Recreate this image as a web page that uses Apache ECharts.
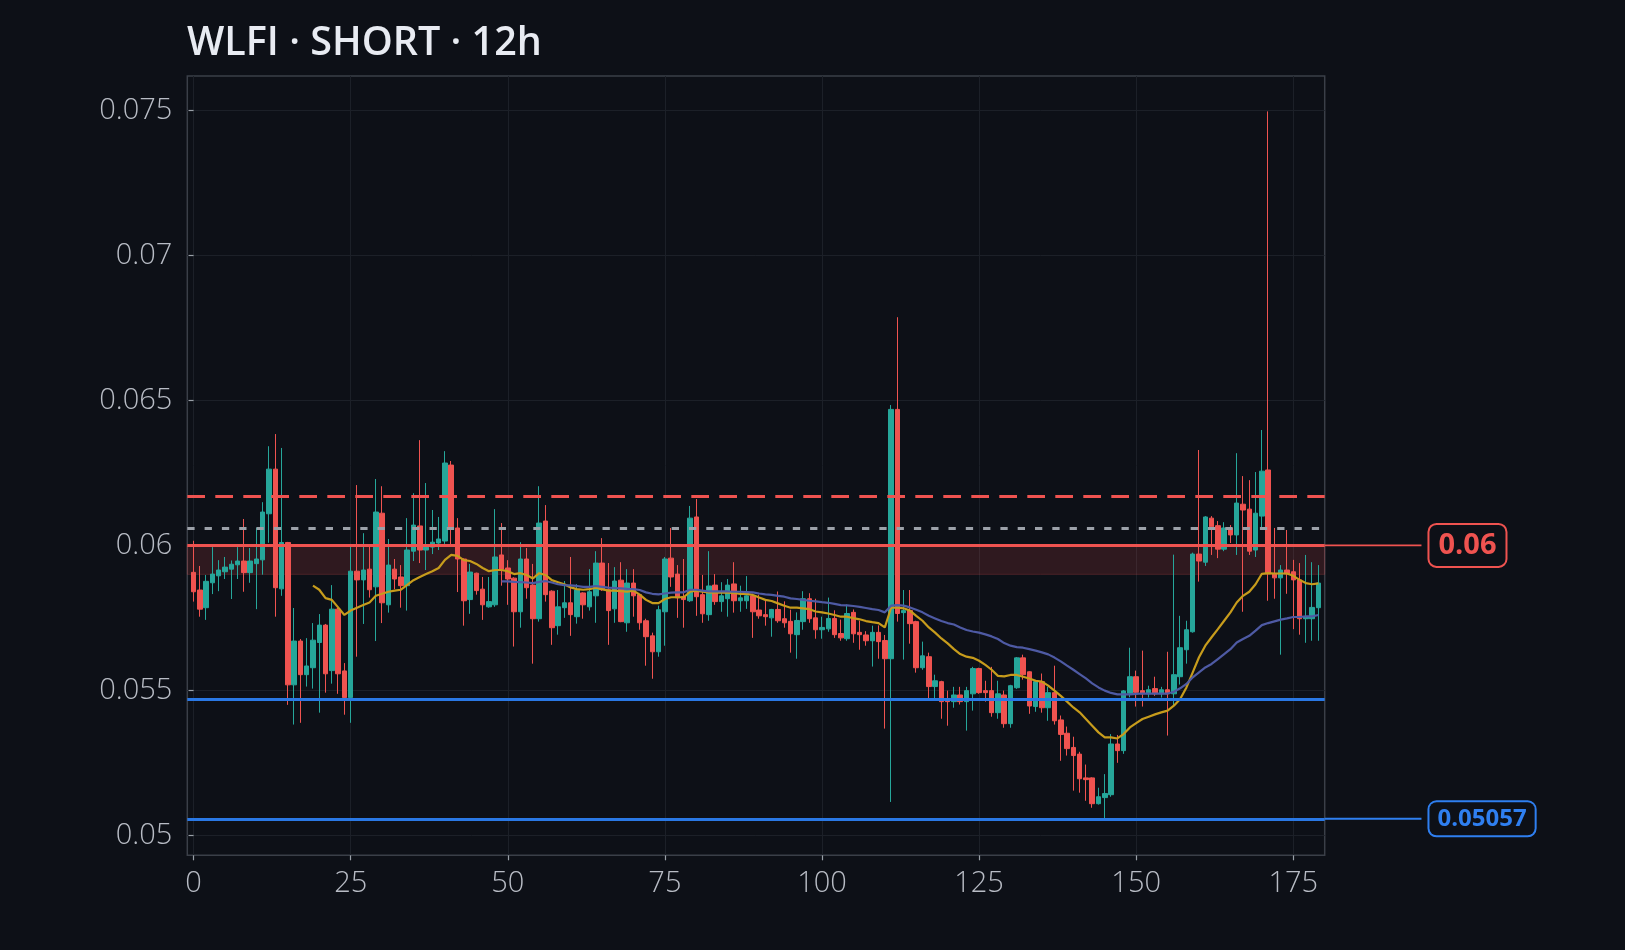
<!DOCTYPE html>
<html><head><meta charset="utf-8">
<script src="https://cdn.jsdelivr.net/npm/echarts@6/dist/echarts.min.js"></script>
<style>html,body{margin:0;padding:0;background:#0d1017;}#chart{width:1625px;height:950px;}</style>
</head><body><div id="chart"></div>
<script>
const chartTitle = 'WLFI · SHORT · 12h';
const xTicks = [0, 25, 50, 75, 100, 125, 150, 175];
const yTicks = [0.05, 0.055, 0.06, 0.065, 0.07, 0.075];

const opens = [
0.05907,0.05846,0.05785,0.05871,0.05895,0.05909,0.05918,0.05933,0.05946,0.05906,
0.05937,0.05950,0.06109,0.06263,0.05850,0.06010,0.05519,0.05670,0.05554,0.05578,
0.05665,0.05725,0.05568,0.05780,0.05567,0.05475,0.05911,0.05881,0.05918,0.05857,
0.06111,0.05795,0.05918,0.05891,0.05861,0.05980,0.06067,0.05984,0.05994,0.06008,
0.06015,0.06277,0.06060,0.05953,0.05813,0.05904,0.05849,0.05788,0.05795,0.05967,
0.05922,0.05887,0.05771,0.05953,0.05863,0.05747,0.06084,0.05842,0.05723,0.05785,
0.05802,0.05754,0.05836,0.05788,0.05826,0.05939,0.05847,0.05781,0.05880,0.05733,
0.05870,0.05830,0.05740,0.05688,0.05633,0.05771,0.05956,0.05901,0.05823,0.05809,
0.06098,0.05830,0.05761,0.05863,0.05806,0.05816,0.05867,0.05809,0.05809,0.05826,
0.05777,0.05761,0.05750,0.05779,0.05747,0.05738,0.05692,0.05737,0.05816,0.05750,
0.05709,0.05712,0.05748,0.05696,0.05678,0.05769,0.05700,0.05691,0.05671,0.05700,
0.05672,0.05609,0.06469,0.05768,0.05775,0.05737,0.05578,0.05616,0.05513,0.05530,
0.05470,0.05461,0.05484,0.05461,0.05488,0.05575,0.05499,0.05499,0.05423,0.05484,
0.05385,0.05509,0.05612,0.05564,0.05444,0.05530,0.05440,0.05492,0.05398,0.05352,
0.05303,0.05280,0.05198,0.05198,0.05109,0.05130,0.05140,0.05315,0.05292,0.05490,
0.05547,0.05499,0.05488,0.05506,0.05488,0.05502,0.05488,0.05547,0.05640,0.05702,
0.05970,0.05942,0.06094,0.06068,0.05987,0.06060,0.06036,0.06142,0.06125,0.05984,
0.06101,0.06260,0.05902,0.05888,0.05915,0.05909,0.05881,0.05747,0.05747,0.05785
];
const closes = [
0.05840,0.05780,0.05876,0.05901,0.05915,0.05925,0.05935,0.05946,0.05906,0.05946,
0.05953,0.06115,0.06263,0.05854,0.06010,0.05519,0.05670,0.05554,0.05584,0.05673,
0.05725,0.05557,0.05780,0.05557,0.05475,0.05911,0.05881,0.05915,0.05847,0.06115,
0.05802,0.05932,0.05884,0.05861,0.05984,0.06070,0.05984,0.05994,0.06011,0.06022,
0.06284,0.06060,0.05953,0.05809,0.05908,0.05844,0.05795,0.05806,0.05960,0.05918,
0.05884,0.05771,0.05953,0.05854,0.05747,0.06077,0.05830,0.05716,0.05788,0.05802,
0.05761,0.05846,0.05795,0.05840,0.05939,0.05847,0.05775,0.05877,0.05737,0.05870,
0.05826,0.05733,0.05685,0.05633,0.05778,0.05953,0.05891,0.05819,0.05813,0.06094,
0.05823,0.05764,0.05860,0.05806,0.05826,0.05863,0.05809,0.05819,0.05826,0.05771,
0.05757,0.05754,0.05779,0.05740,0.05733,0.05695,0.05741,0.05816,0.05747,0.05709,
0.05717,0.05748,0.05692,0.05681,0.05765,0.05695,0.05692,0.05671,0.05700,0.05668,
0.05609,0.06469,0.05765,0.05775,0.05730,0.05578,0.05619,0.05513,0.05533,0.05461,
0.05461,0.05484,0.05461,0.05499,0.05575,0.05492,0.05492,0.05423,0.05488,0.05385,
0.05516,0.05612,0.05554,0.05446,0.05530,0.05440,0.05492,0.05395,0.05348,0.05299,
0.05275,0.05195,0.05192,0.05109,0.05133,0.05144,0.05315,0.05292,0.05498,0.05547,
0.05493,0.05488,0.05502,0.05488,0.05502,0.05488,0.05554,0.05647,0.05709,0.05970,
0.05946,0.06098,0.06064,0.05987,0.06060,0.06036,0.06146,0.06122,0.05980,0.06111,
0.06256,0.05902,0.05888,0.05915,0.05902,0.05881,0.05747,0.05754,0.05786,0.05870
];
const lows = [
0.05806,0.05754,0.05743,0.05832,0.05842,0.05884,0.05815,0.05884,0.05840,0.05871,
0.05780,0.05899,0.06009,0.05754,0.05826,0.05450,0.05382,0.05388,0.05513,0.05506,
0.05423,0.05492,0.05523,0.05488,0.05416,0.05388,0.05616,0.05729,0.05820,0.05670,
0.05732,0.05768,0.05849,0.05785,0.05775,0.05946,0.05939,0.05915,0.05970,0.05984,
0.06005,0.06000,0.05839,0.05723,0.05764,0.05830,0.05743,0.05785,0.05788,0.05861,
0.05795,0.05651,0.05716,0.05816,0.05592,0.05737,0.05806,0.05657,0.05692,0.05750,
0.05688,0.05730,0.05747,0.05775,0.05733,0.05843,0.05657,0.05733,0.05735,0.05702,
0.05754,0.05709,0.05585,0.05540,0.05616,0.05654,0.05857,0.05750,0.05716,0.05805,
0.05757,0.05733,0.05740,0.05795,0.05771,0.05754,0.05768,0.05771,0.05781,0.05681,
0.05747,0.05723,0.05685,0.05733,0.05716,0.05630,0.05609,0.05709,0.05733,0.05678,
0.05678,0.05702,0.05681,0.05671,0.05671,0.05664,0.05640,0.05654,0.05582,0.05609,
0.05368,0.05115,0.05737,0.05606,0.05661,0.05561,0.05571,0.05471,0.05471,0.05402,
0.05378,0.05440,0.05451,0.05361,0.05430,0.05488,0.05461,0.05409,0.05402,0.05371,
0.05371,0.05505,0.05537,0.05419,0.05426,0.05423,0.05395,0.05382,0.05257,0.05275,
0.05154,0.05147,0.05119,0.05095,0.05106,0.05056,0.05133,0.05250,0.05281,0.05476,
0.05444,0.05444,0.05475,0.05481,0.05475,0.05344,0.05445,0.05520,0.05592,0.05699,
0.05875,0.05929,0.05967,0.05956,0.05980,0.06008,0.05967,0.05771,0.05967,0.05960,
0.06053,0.05809,0.05816,0.05623,0.05833,0.05711,0.05692,0.05664,0.05671,0.05671
];
const highs = [
0.06016,0.05929,0.05898,0.05994,0.05949,0.05960,0.05948,0.05994,0.06091,0.05991,
0.06061,0.06149,0.06342,0.06384,0.06336,0.06012,0.05784,0.05677,0.05680,0.05732,
0.05763,0.05729,0.05863,0.05784,0.05594,0.06005,0.06208,0.06042,0.06000,0.06229,
0.06204,0.06022,0.05953,0.05932,0.06094,0.06180,0.06363,0.06215,0.06122,0.06098,
0.06325,0.06291,0.06094,0.05955,0.05936,0.05906,0.05891,0.05891,0.06125,0.06077,
0.05949,0.05890,0.06011,0.05991,0.05936,0.06204,0.06139,0.05845,0.05846,0.05877,
0.05960,0.05866,0.05838,0.05918,0.05980,0.06025,0.05939,0.05925,0.05942,0.05918,
0.05918,0.05832,0.05747,0.05699,0.05792,0.05960,0.06060,0.05932,0.05953,0.06136,
0.06160,0.05898,0.05980,0.05901,0.05873,0.05884,0.05942,0.05861,0.05894,0.05833,
0.05830,0.05812,0.05781,0.05841,0.05807,0.05778,0.05769,0.05842,0.05835,0.05816,
0.05754,0.05820,0.05776,0.05744,0.05796,0.05779,0.05740,0.05704,0.05723,0.05724,
0.05691,0.06484,0.06787,0.05846,0.05846,0.05740,0.05668,0.05630,0.05554,0.05533,
0.05499,0.05512,0.05512,0.05512,0.05581,0.05578,0.05533,0.05581,0.05533,0.05499,
0.05519,0.05615,0.05623,0.05566,0.05533,0.05558,0.05512,0.05585,0.05413,0.05375,
0.05340,0.05288,0.05244,0.05200,0.05164,0.05211,0.05349,0.05346,0.05501,0.05647,
0.05568,0.05637,0.05516,0.05547,0.05512,0.05633,0.05968,0.05757,0.05740,0.05975,
0.06329,0.06101,0.06101,0.06084,0.06080,0.06070,0.06318,0.06239,0.06225,0.06253,
0.06398,0.07497,0.06060,0.05932,0.06053,0.05950,0.05939,0.05967,0.05942,0.05932
];

const maFastStart = 19;
const maFast = [
0.05861,0.05847,0.05818,0.05812,0.05786,0.05760,0.05775,0.05785,0.05794,0.05803,
0.05826,0.05833,0.05840,0.05844,0.05847,0.05864,0.05880,0.05891,0.05901,0.05911,
0.05922,0.05950,0.05967,0.05964,0.05949,0.05946,0.05936,0.05922,0.05911,0.05915,
0.05915,0.05911,0.05901,0.05904,0.05898,0.05886,0.05904,0.05898,0.05880,0.05873,
0.05866,0.05855,0.05849,0.05847,0.05849,0.05854,0.05849,0.05844,0.05844,0.05842,
0.05840,0.05844,0.05830,0.05812,0.05801,0.05801,0.05815,0.05821,0.05821,0.05821,
0.05840,0.05844,0.05840,0.05838,0.05837,0.05837,0.05837,0.05836,0.05833,0.05833,
0.05829,0.05820,0.05812,0.05808,0.05800,0.05792,0.05785,0.05785,0.05783,0.05780,
0.05772,0.05769,0.05765,0.05760,0.05754,0.05754,0.05749,0.05745,0.05739,0.05735,
0.05732,0.05717,0.05785,0.05785,0.05783,0.05775,0.05757,0.05740,0.05717,0.05699,
0.05679,0.05662,0.05642,0.05625,0.05616,0.05612,0.05602,0.05588,0.05571,0.05550,
0.05548,0.05553,0.05553,0.05547,0.05541,0.05533,0.05530,0.05516,0.05499,0.05481,
0.05461,0.05441,0.05424,0.05401,0.05378,0.05355,0.05338,0.05338,0.05334,0.05349,
0.05372,0.05387,0.05401,0.05409,0.05417,0.05424,0.05430,0.05447,0.05470,0.05510,
0.05562,0.05614,0.05654,0.05683,0.05711,0.05740,0.05769,0.05803,0.05826,0.05840,
0.05866,0.05902,0.05904,0.05903,0.05903,0.05903,0.05895,0.05881,0.05870,0.05866,
0.05869
];
const maSlowStart = 49;
const maSlow = [
0.05876,0.05876,0.05874,0.05873,0.05872,0.05870,0.05874,0.05877,0.05872,0.05866,
0.05863,0.05862,0.05860,0.05857,0.05857,0.05860,0.05857,0.05854,0.05853,0.05852,
0.05850,0.05849,0.05846,0.05838,0.05833,0.05831,0.05834,0.05837,0.05838,0.05838,
0.05847,0.05847,0.05844,0.05841,0.05841,0.05841,0.05841,0.05840,0.05840,0.05839,
0.05838,0.05834,0.05831,0.05829,0.05826,0.05823,0.05817,0.05815,0.05812,0.05809,
0.05807,0.05804,0.05802,0.05798,0.05794,0.05793,0.05791,0.05788,0.05784,0.05780,
0.05777,0.05769,0.05792,0.05794,0.05792,0.05786,0.05778,0.05769,0.05757,0.05748,
0.05739,0.05732,0.05727,0.05717,0.05708,0.05703,0.05699,0.05693,0.05686,0.05677,
0.05663,0.05654,0.05649,0.05647,0.05642,0.05637,0.05631,0.05624,0.05613,0.05600,
0.05585,0.05571,0.05556,0.05541,0.05524,0.05510,0.05499,0.05491,0.05486,0.05486,
0.05486,0.05488,0.05489,0.05489,0.05489,0.05489,0.05489,0.05495,0.05507,0.05522,
0.05545,0.05562,0.05579,0.05591,0.05608,0.05625,0.05642,0.05665,0.05677,0.05688,
0.05706,0.05725,0.05732,0.05738,0.05744,0.05748,0.05753,0.05753,0.05755,0.05755,
0.05760
];

const entryLevel = 0.06;
const zoneLow = 0.059;
const stopLevel = 0.06168;
const refLevel = 0.06058;
const supportLevel = 0.05468;
const targetLevel = 0.05057;
const entryLabel = '0.06';
const targetLabel = '0.05057';

const X_MIN = -1, X_MAX = 180, LABEL_X = 195.4;
const Y_MIN = 0.04931, Y_MAX = 0.07619;

const UP = '#26a69a', DOWN = '#ef5350', BLUE = '#2a78e4', BLUE_TXT = '#2f7ff0';
const FONT = 'Open Sans';
const BG = '#0d1017';

const candleData = opens.map((o, i) => [i, o, closes[i], lows[i], highs[i]]);
const fastData = maFast.map((v, k) => [maFastStart + k, v]);
const slowData = maSlow.map((v, k) => [maSlowStart + k, v]);

const chart = echarts.init(document.getElementById('chart'), null, {renderer: 'canvas'});
chart.setOption({
  backgroundColor: BG,
  animation: false,
  textStyle: {fontFamily: FONT},
  title: {
    text: chartTitle, left: 182, top: 19,
    textStyle: {color: '#e8ebf2', fontSize: 39.5, fontWeight: 600, fontFamily: FONT}
  },
  grid: {
    left: 187.3, right: 300.3, top: 76, bottom: 94.7, containLabel: false,
    show: true, borderColor: '#3a3f48', borderWidth: 1.5, backgroundColor: 'transparent'
  },
  xAxis: {
    type: 'value', min: X_MIN, max: X_MAX,
    axisLine: {show: false},
    axisTick: {show: true, customValues: xTicks, length: 5, lineStyle: {color: '#9aa0a8', width: 1.2}},
    axisLabel: {customValues: xTicks, color: '#b8bcc5', fontSize: 29, fontWeight: 300, margin: 14, fontFamily: FONT},
    splitLine: {show: true, lineStyle: {color: '#1c2028', width: 1}}
  },
  yAxis: {
    type: 'value', min: Y_MIN, max: Y_MAX, scale: true,
    axisLine: {show: false},
    axisTick: {show: true, customValues: yTicks, length: 5, lineStyle: {color: '#9aa0a8', width: 1.2}},
    axisLabel: {customValues: yTicks, color: '#b8bcc5', fontSize: 29, fontWeight: 300, margin: 15, fontFamily: FONT,
      formatter: v => String(+v.toFixed(4))},
    splitLine: {show: true, lineStyle: {color: '#1c2028', width: 1}}
  },
  series: [
    {
      type: 'candlestick',
      data: candleData,
      barWidth: 5,
      itemStyle: {color: UP, color0: DOWN, borderColor: UP, borderColor0: DOWN, borderWidth: 1},
      markArea: {
        silent: true,
        itemStyle: {color: 'rgba(239,83,80,0.15)', borderColor: 'rgba(239,83,80,0.22)', borderWidth: 1},
        data: [[{yAxis: zoneLow}, {yAxis: entryLevel}]]
      },
      markLine: {
        silent: true, symbol: ['none', 'none'], animation: false, precision: 6,
        emphasis: {disabled: true},
        label: {show: false},
        data: [
          {yAxis: stopLevel, lineStyle: {color: DOWN, width: 3, type: [17.7, 10.3], opacity: 1}},
          {yAxis: refLevel, lineStyle: {color: '#9ca1a9', width: 3, type: [7.3, 10], opacity: 1}},
          {yAxis: entryLevel, lineStyle: {color: DOWN, width: 3, type: 'solid', opacity: 1}},
          {yAxis: supportLevel, lineStyle: {color: BLUE, width: 3, type: 'solid', opacity: 1}},
          {yAxis: targetLevel, lineStyle: {color: BLUE, width: 3, type: 'solid', opacity: 1}}
        ]
      }
    },
    {
      type: 'line', data: fastData, showSymbol: false, silent: true,
      lineStyle: {color: '#c79c1c', width: 2.2}, z: 3
    },
    {
      type: 'line', data: slowData, showSymbol: false, silent: true,
      lineStyle: {color: '#4e5aa4', width: 2.2}, z: 3
    }
  ]
});

// Level tags outside the plot, positioned through the chart's own scales
function tag(level, text, color, textColor, fontSize, pad) {
  const a = chart.convertToPixel({gridIndex: 0}, [X_MAX, level]);
  const b = chart.convertToPixel({gridIndex: 0}, [LABEL_X, level]);
  return [
    {type: 'line', silent: true, z: 10,
      shape: {x1: a[0], y1: a[1], x2: b[0], y2: b[1]},
      style: {stroke: color, lineWidth: 1.8}},
    {type: 'text', silent: true, z: 10, x: b[0] + 8, y: b[1],
      style: {text: text, fill: textColor, font: 'bold ' + fontSize + 'px "' + FONT + '"',
        align: 'left', verticalAlign: 'middle',
        backgroundColor: BG, borderColor: color, borderWidth: 2, borderRadius: 7, padding: pad}}
  ];
}
chart.setOption({
  graphic: [].concat(
    tag(entryLevel, entryLabel, DOWN, DOWN, 29, [7, 9, 5, 9]),
    tag(targetLevel, targetLabel, BLUE_TXT, BLUE_TXT, 24, [5, 8, 4, 8])
  )
});
</script></body></html>
